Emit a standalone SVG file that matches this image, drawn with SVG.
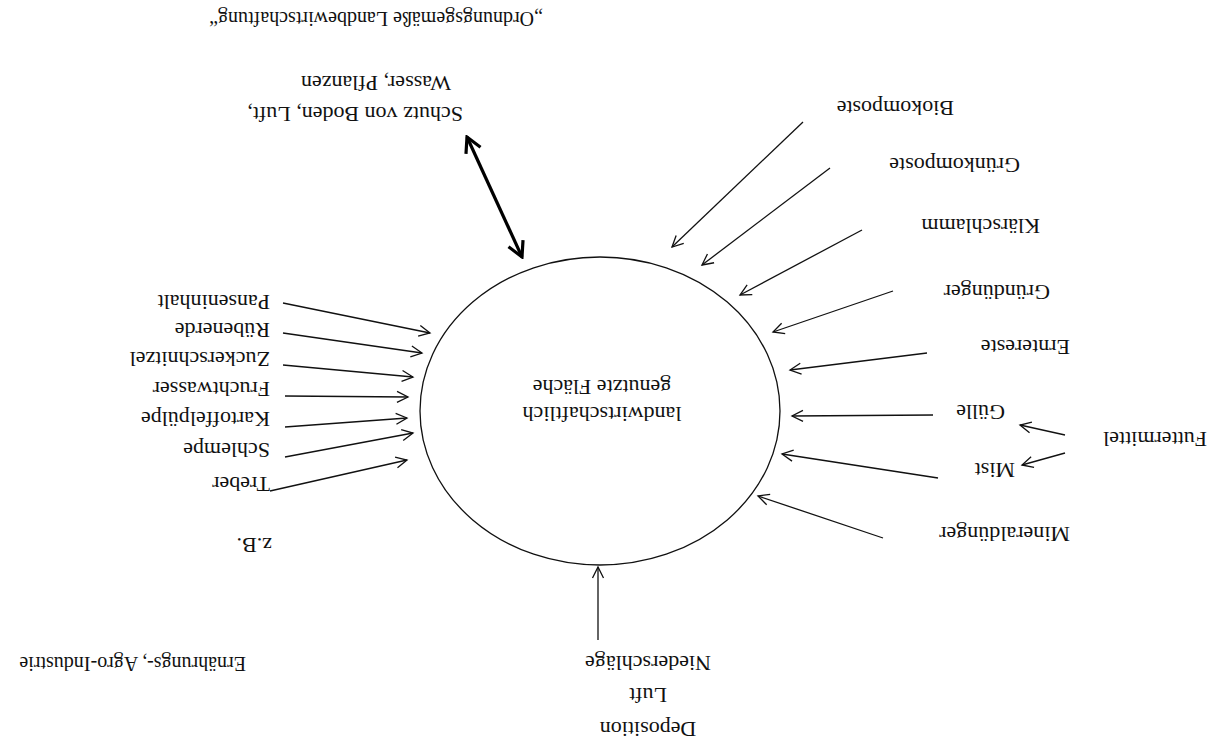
<svg xmlns="http://www.w3.org/2000/svg" width="1222" height="740" viewBox="0 0 1222 740">
<style>
text{font-family:"Liberation Serif","Times New Roman",serif;font-size:22px;fill:#111}
.ln{stroke:#111;stroke-width:1.3;fill:none}
.thick{stroke:#000;stroke-width:3.2;fill:none}
</style>
<defs>
<marker id="a" viewBox="-12 -7 14 14" refX="0" refY="0" markerWidth="14" markerHeight="14" markerUnits="userSpaceOnUse" orient="auto">
<path d="M-11,-5.5 L0,0 L-11,5.5" fill="none" stroke="#111" stroke-width="1.3"/>
</marker>
<marker id="b" viewBox="-18 -10 20 20" refX="0" refY="0" markerWidth="20" markerHeight="20" markerUnits="userSpaceOnUse" orient="auto-start-reverse">
<path d="M-15,-8 L0,0 L-15,8" fill="none" stroke="#000" stroke-width="3.2"/>
</marker>
</defs>
<rect width="1222" height="740" fill="#fff"/>

<g id="title"><text x="543" y="12" transform="rotate(180 543 12)" style="font-size:20px">„Ordnungsgemäße Landbewirtschaftung“</text></g>

<g id="center">
<ellipse cx="600" cy="411" rx="180" ry="154" class="ln"/>
<text x="602" y="407" transform="rotate(180 602 407)" text-anchor="middle">landwirtschaftlich</text>
<text x="602" y="380" transform="rotate(180 602 380)" text-anchor="middle">genutzte Fläche</text>
</g>

<g id="schutz">
<text x="463" y="107" transform="rotate(180 463 107)">Schutz von Boden, Luft,</text>
<text x="451" y="76" transform="rotate(180 451 76)">Wasser, Pflanzen</text>
</g>

<g id="right-labels">
<text x="954" y="101" transform="rotate(180 954 101)">Biokomposte</text>
<text x="1020" y="158" transform="rotate(180 1020 158)">Grünkomposte</text>
<text x="1040" y="219" transform="rotate(180 1040 219)">Klärschlamm</text>
<text x="1050" y="285" transform="rotate(180 1050 285)">Gründünger</text>
<text x="1070" y="340" transform="rotate(180 1070 340)">Erntereste</text>
<text x="1005" y="405" transform="rotate(180 1005 405)">Gülle</text>
<text x="1015" y="463" transform="rotate(180 1015 463)">Mist</text>
<text x="1070" y="527" transform="rotate(180 1070 527)">Mineraldünger</text>
<text x="1207" y="432" transform="rotate(180 1207 432)">Futtermittel</text>
</g>

<g id="left-labels">
<text x="270" y="295" transform="rotate(180 270 295)">Panseninhalt</text>
<text x="270" y="323" transform="rotate(180 270 323)">Rübenerde</text>
<text x="270" y="352" transform="rotate(180 270 352)">Zuckerschnitzel</text>
<text x="270" y="382" transform="rotate(180 270 382)">Fruchtwasser</text>
<text x="270" y="412" transform="rotate(180 270 412)">Kartoffelpülpe</text>
<text x="270" y="443" transform="rotate(180 270 443)">Schlempe</text>
<text x="270" y="477" transform="rotate(180 270 477)">Treber</text>
<text x="272" y="538" transform="rotate(180 272 538)">z.B.</text>
<text x="246" y="657" transform="rotate(180 246 657)" style="font-size:20px">Ernährungs-, Agro-Industrie</text>
</g>

<g id="deposition">
<text x="648" y="656" transform="rotate(180 648 656)" text-anchor="middle">Niederschläge</text>
<text x="648" y="688" transform="rotate(180 648 688)" text-anchor="middle">Luft</text>
<text x="648" y="722" transform="rotate(180 648 722)" text-anchor="middle">Deposition</text>
</g>

<g id="connectors">
<line x1="522" y1="257" x2="467" y2="137" class="thick" marker-start="url(#b)" marker-end="url(#b)"/>
<line x1="803" y1="122" x2="672" y2="247" class="ln" marker-end="url(#a)"/>
<line x1="830" y1="168" x2="702" y2="265" class="ln" marker-end="url(#a)"/>
<line x1="862" y1="230" x2="740" y2="295" class="ln" marker-end="url(#a)"/>
<line x1="893" y1="291" x2="773" y2="332" class="ln" marker-end="url(#a)"/>
<line x1="927" y1="353" x2="790" y2="370" class="ln" marker-end="url(#a)"/>
<line x1="933" y1="415" x2="792" y2="416" class="ln" marker-end="url(#a)"/>
<line x1="938" y1="478" x2="782" y2="454" class="ln" marker-end="url(#a)"/>
<line x1="883" y1="538" x2="758" y2="496" class="ln" marker-end="url(#a)"/>
<line x1="1065" y1="435" x2="1020" y2="425" class="ln" marker-end="url(#a)"/>
<line x1="1065" y1="453" x2="1022" y2="465" class="ln" marker-end="url(#a)"/>
<line x1="598" y1="640" x2="598" y2="567" class="ln" stroke="#444" marker-end="url(#a)"/>
<line x1="283" y1="303" x2="430" y2="333" class="ln" marker-end="url(#a)"/>
<line x1="283" y1="333" x2="422" y2="353" class="ln" marker-end="url(#a)"/>
<line x1="283" y1="365" x2="413" y2="377" class="ln" marker-end="url(#a)"/>
<line x1="285" y1="396" x2="408" y2="397" class="ln" marker-end="url(#a)"/>
<line x1="285" y1="427" x2="407" y2="418" class="ln" marker-end="url(#a)"/>
<line x1="285" y1="457" x2="413" y2="433" class="ln" marker-end="url(#a)"/>
<line x1="270" y1="491" x2="407" y2="460" class="ln" marker-end="url(#a)"/>
</g>
</svg>
